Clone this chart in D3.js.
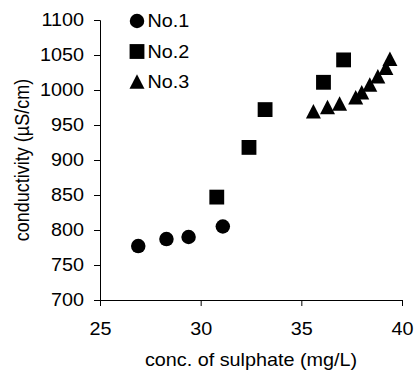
<!DOCTYPE html>
<html>
<head>
<meta charset="utf-8">
<script src="https://cdn.jsdelivr.net/npm/d3@7"></script>
<style>
  body { margin: 0; background: #fff; }
  svg { font-family: "Liberation Sans", Arial, sans-serif; }
</style>
</head>
<body>
<script>
'use strict';

const seriesNames = ['No.1', 'No.2', 'No.3'];
const no1Sulphate = [26.9, 28.3, 29.4, 31.1];
const no1Conductivity = [777, 787, 790, 805];
const no2Sulphate = [30.8, 32.4, 33.2, 36.1, 37.1];
const no2Conductivity = [847, 918, 972, 1011, 1043];
const no3Sulphate = [35.6, 36.3, 36.9, 37.7, 38.0, 38.4, 38.8, 39.2, 39.4];
const no3Conductivity = [969, 975, 980, 989, 996, 1007, 1019, 1031, 1044];
const xTicks = [25, 30, 35, 40];
const yTicks = [700, 750, 800, 850, 900, 950, 1000, 1050, 1100];

const width = 415;
const height = 372;
const margin = { top: 20, right: 13, bottom: 72, left: 100 };
const fontSize = 18;
const stretch = 1.1;

const x = d3.scaleLinear().domain([25, 40]).range([margin.left, width - margin.right]);
const y = d3.scaleLinear().domain([700, 1100]).range([height - margin.bottom, margin.top]);

// taller-than-equilateral triangle, like the spreadsheet marker
const triangle = {
  draw: function(context, size) {
    const w = Math.sqrt(size);
    context.moveTo(0, -w * 0.52);
    context.lineTo(w * 0.5, w * 0.45);
    context.lineTo(-w * 0.5, w * 0.45);
    context.closePath();
  }
};

const symbols = [d3.symbolCircle, d3.symbolSquare, triangle];
const sizes = [165, 220, 225];

const series = [
  { xs: no1Sulphate, ys: no1Conductivity },
  { xs: no2Sulphate, ys: no2Conductivity },
  { xs: no3Sulphate, ys: no3Conductivity },
];

const svg = d3.select('body').append('svg')
  .attr('width', width)
  .attr('height', height);

const xAxis = svg.append('g')
  .attr('transform', 'translate(0,' + y(700) + ')')
  .call(d3.axisBottom(x).tickValues(xTicks).tickFormat(d3.format('d')).tickSize(6).tickPadding(16));

const yAxis = svg.append('g')
  .attr('transform', 'translate(' + x(25) + ',0)')
  .call(d3.axisLeft(y).tickValues(yTicks).tickFormat(d3.format('d')).tickSize(6).tickPadding(10));

[xAxis, yAxis].forEach(function(g) {
  g.attr('font-size', fontSize).attr('font-family', null);
  g.selectAll('text').attr('fill', '#000');
  g.selectAll('line, path').attr('stroke', '#000').attr('stroke-width', 1);
});

xAxis.selectAll('text')
  .attr('transform', 'scale(' + stretch + ',1)');

yAxis.selectAll('text')
  .attr('x', 0)
  .attr('transform', 'translate(-16,0) scale(' + stretch + ',1)');

svg.append('text')
  .attr('transform', 'translate(' + ((x(25) + x(40)) / 2) + ',366) scale(' + stretch + ',1)')
  .attr('text-anchor', 'middle')
  .attr('font-size', fontSize)
  .text('conc. of sulphate (mg/L)');

svg.append('text')
  .attr('transform', 'translate(29,' + ((y(700) + y(1100)) / 2) + ') scale(' + stretch + ',1) rotate(-90)')
  .attr('text-anchor', 'middle')
  .attr('font-size', fontSize)
  .text('conductivity (µS/cm)');

series.forEach(function(s, i) {
  const sym = d3.symbol().type(symbols[i]).size(sizes[i]);
  svg.append('g').selectAll('path')
    .data(s.xs.map(function(v, j) { return [v, s.ys[j]]; }))
    .enter().append('path')
    .attr('d', sym)
    .attr('transform', function(d) {
      return 'translate(' + x(d[0]) + ',' + y(d[1]) + ')';
    })
    .attr('fill', '#000');
});

const legend = svg.append('g').attr('transform', 'translate(137,21)');
seriesNames.forEach(function(name, i) {
  const row = legend.append('g').attr('transform', 'translate(0,' + (i * 30.5) + ')');
  row.append('path')
    .attr('d', d3.symbol().type(symbols[i]).size(sizes[i])())
    .attr('fill', '#000');
  row.append('text')
    .attr('transform', 'translate(10.5,6) scale(' + stretch + ',1)')
    .attr('font-size', fontSize)
    .text(name);
});
</script>
</body>
</html>
